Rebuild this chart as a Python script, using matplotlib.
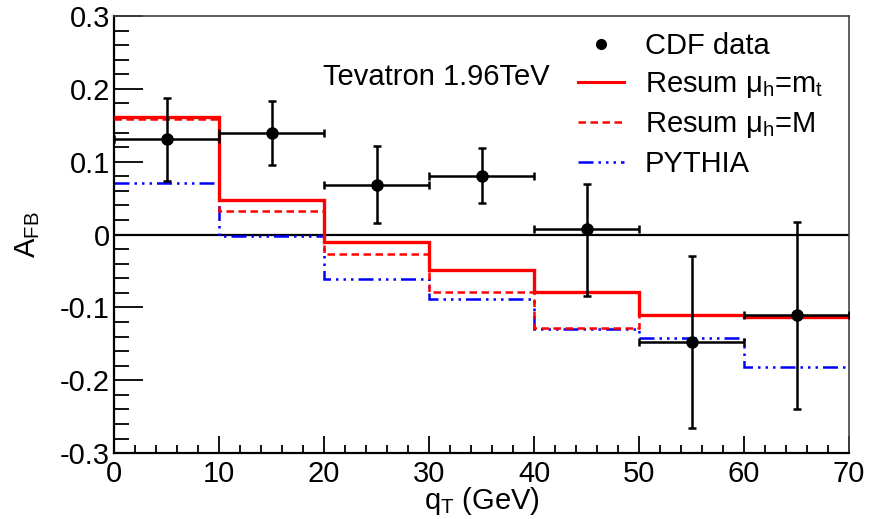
import numpy as np
import matplotlib
matplotlib.use("Agg")
import matplotlib.pyplot as plt
from matplotlib.ticker import MultipleLocator
from matplotlib.lines import Line2D

plt.rcParams["font.family"] = ["Liberation Sans", "DejaVu Sans"]
plt.rcParams["mathtext.fontset"] = "custom"
plt.rcParams["mathtext.rm"] = "Liberation Sans"
plt.rcParams["mathtext.it"] = "Liberation Sans"
plt.rcParams["mathtext.bf"] = "Liberation Sans:bold"

FS = 21

# bins in q_T (GeV)
edges = [0, 10, 20, 30, 40, 50, 60, 70]

# theory curves (one value per bin)
resum_mt = [0.161, 0.048, -0.010, -0.049, -0.079, -0.111, -0.113]
resum_M = [0.159, 0.033, -0.026, -0.079, -0.128, -0.110, -0.112]
pythia = [0.071, -0.002, -0.061, -0.088, -0.130, -0.142, -0.182]

# CDF data
cdf_x = [5, 15, 25, 35, 45, 55, 65]
cdf_y = [0.131, 0.139, 0.068, 0.081, 0.007, -0.148, -0.111]
cdf_err_lo = [0.058, 0.044, 0.052, 0.037, 0.092, 0.118, 0.129]
cdf_err_hi = [0.057, 0.045, 0.053, 0.038, 0.062, 0.118, 0.128]
cdf_xerr = [5, 5, 5, 5, 5, 5, 5]

DASH = (0, (3, 1.8))
DASHDOT3 = (0, (6, 2, 1, 2, 1, 2, 1, 2))

fig = plt.figure(figsize=(8.69, 5.19), dpi=100)
ax = fig.add_axes([0.1312, 0.127, 0.8458, 0.842])

ax.axhline(0, color="black", lw=1.6, zorder=1)

ax.stairs(pythia, edges, baseline=None, color="blue", lw=1.8,
          linestyle=DASHDOT3, zorder=2)
ax.stairs(resum_M, edges, baseline=None, color="red", lw=1.8,
          linestyle=DASH, zorder=3)
ax.stairs(resum_mt, edges, baseline=None, color="red", lw=2.4, zorder=4)

ax.errorbar(cdf_x, cdf_y, xerr=cdf_xerr, yerr=[cdf_err_lo, cdf_err_hi],
            fmt="o", color="black", ms=8, elinewidth=1.8, capsize=3,
            capthick=1.8, zorder=5)

ax.set_xlim(0, 70)
ax.set_ylim(-0.3, 0.3)
ax.xaxis.set_major_locator(MultipleLocator(10))
ax.xaxis.set_minor_locator(MultipleLocator(2))
ax.yaxis.set_major_locator(MultipleLocator(0.1))
ax.yaxis.set_minor_locator(MultipleLocator(0.02))
ax.tick_params(axis="x", which="major", direction="in", length=12, width=1.3,
               labelsize=FS, pad=5, top=False)
ax.tick_params(axis="x", which="minor", direction="in", length=6, width=1.3, top=False)
ax.tick_params(axis="y", which="major", direction="in", length=21, width=1.3,
               labelsize=FS, pad=3, right=False)
ax.tick_params(axis="y", which="minor", direction="in", length=11, width=1.3, right=False)
ax.yaxis.set_major_formatter(plt.FuncFormatter(
    lambda v, p: "0" if abs(v) < 1e-9 else f"{v:.1f}"))

for s in ["left", "bottom"]:
    ax.spines[s].set_linewidth(1.6)
for s in ["top", "right"]:
    ax.spines[s].set_linewidth(1.2)
    ax.spines[s].set_color("#444444")

ax.set_xlabel("q$_{T}$ (GeV)", fontsize=FS, labelpad=-2)
ax.set_ylabel("A$_{FB}$", fontsize=FS, labelpad=13)

ax.text(0.284, 0.860, "Tevatron 1.96TeV", transform=ax.transAxes,
        fontsize=FS, va="center", ha="left")

handles = [
    Line2D([], [], marker="o", color="black", ls="none", ms=7),
    Line2D([], [], color="red", lw=2.2),
    Line2D([], [], color="red", lw=1.8, ls=DASH),
    Line2D([], [], color="blue", lw=1.8, ls=DASHDOT3),
]
labels = ["CDF data", "Resum $\\mu_{h}$=m$_{t}$", "Resum $\\mu_{h}$=M", "PYTHIA"]
ax.legend(handles, labels, loc="upper left", bbox_to_anchor=(0.615, 0.99),
          frameon=False, fontsize=FS, handlelength=1.6, handletextpad=0.7,
          labelspacing=0.34, borderaxespad=0.0)

fig.savefig("out.png", dpi=100)
